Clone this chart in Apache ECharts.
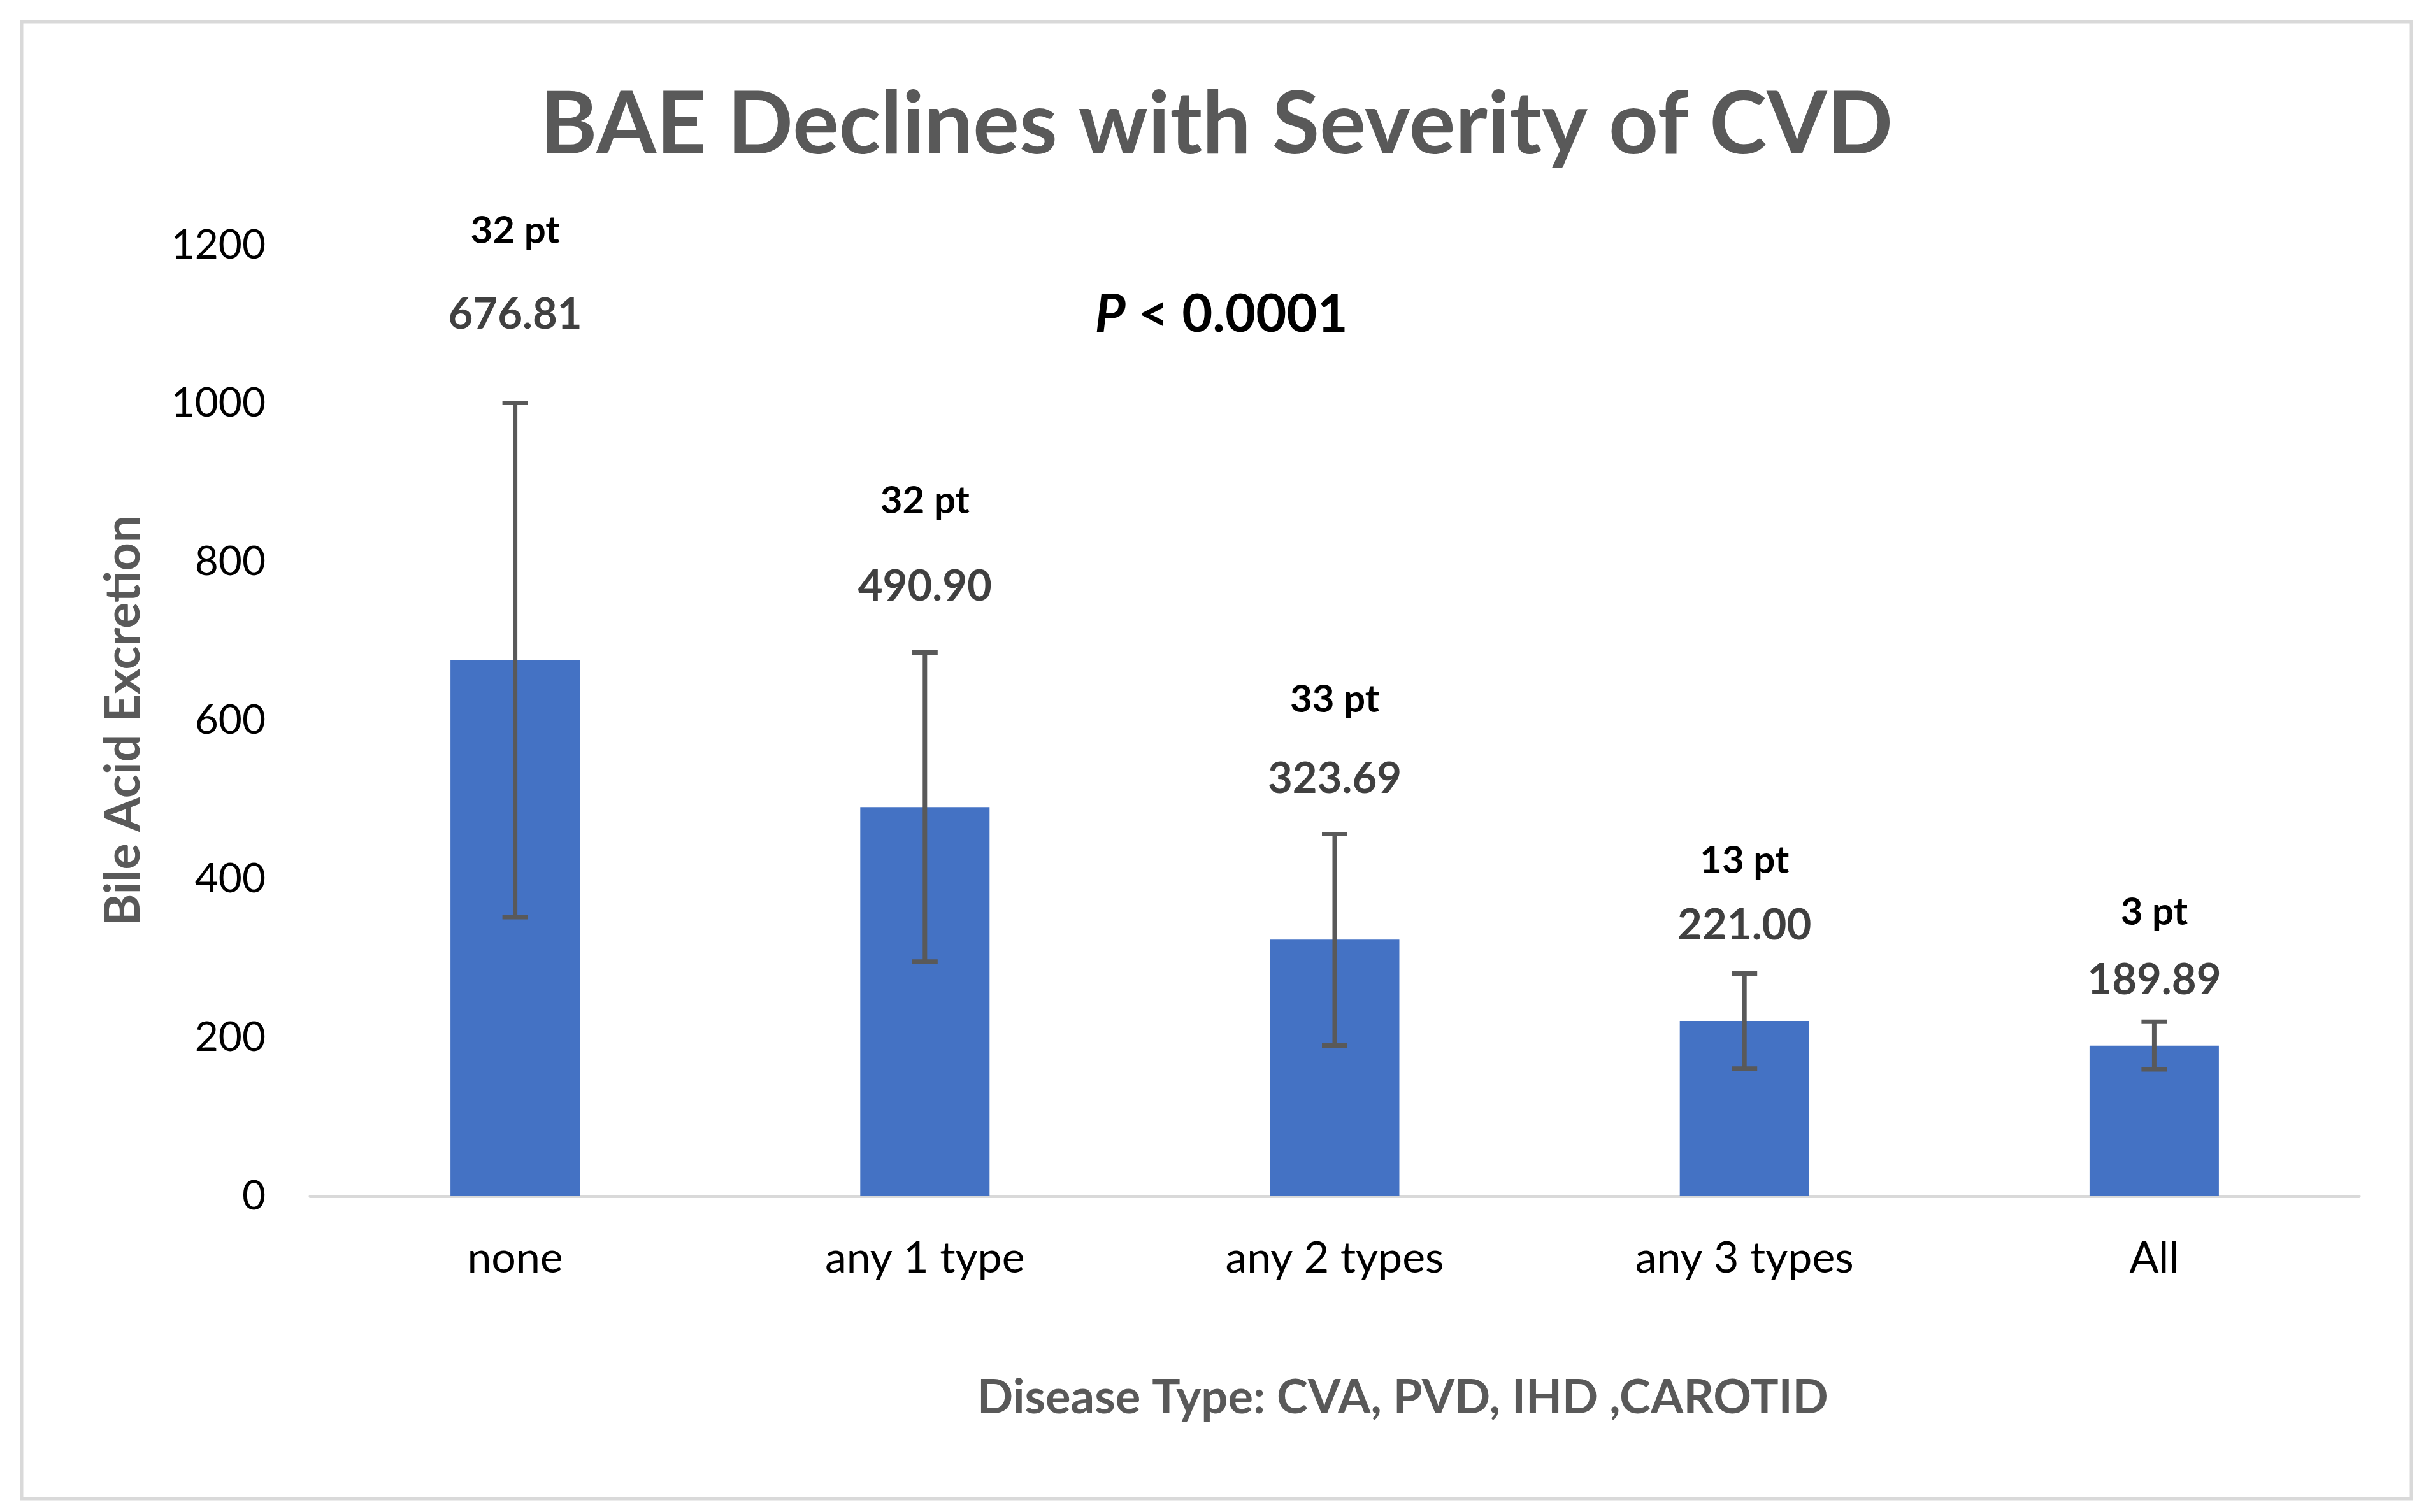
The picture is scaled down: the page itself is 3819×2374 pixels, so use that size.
<!DOCTYPE html>
<html>
<head>
<meta charset="utf-8">
<script src="https://cdn.jsdelivr.net/npm/echarts@6/dist/echarts.min.js"></script>
<style>html,body{margin:0;padding:0;background:#fff}#c{width:3819px;height:2374px}</style>
</head>
<body>
<div id="c"></div>
<script>
const categories = ['none', 'any 1 type', 'any 2 types', 'any 3 types', 'All'];
const means = [676.81, 490.90, 323.69, 221.00, 189.89];
const errLow = [352, 296, 190, 161, 160];
const errHigh = [1001, 686, 457, 281, 220];
const patients = ['32 pt', '32 pt', '33 pt', '13 pt', '3 pt'];
const ptLabelAt = [1218, 877, 626, 423, 358];
const valueLabelAt = [1112, 769, 526, 341, 272];
const yTicks = { min: 0, max: 1200, interval: 200 };

const FONT = 'Lato';
const chart = echarts.init(document.getElementById('c'), null, { renderer: 'canvas' });

const option = {
  backgroundColor: '#ffffff',
  animation: false,
  title: {
    text: 'BAE Declines with Severity of CVD',
    left: 'center',
    top: 124,
    textStyle: { fontFamily: FONT, fontSize: 136, fontWeight: 'bold', color: '#595959' }
  },
  grid: { left: 487, right: 116, top: 385, bottom: 496 },
  xAxis: {
    type: 'category',
    data: categories,
    axisLine: { lineStyle: { color: '#d9d9d9', width: 5 } },
    axisTick: { show: false },
    axisLabel: { fontFamily: FONT, fontSize: 68, color: '#000000', margin: 64 },
    name: 'Disease Type: CVA, PVD, IHD ,CAROTID',
    nameLocation: 'middle',
    nameGap: 280,
    nameTextStyle: { fontFamily: FONT, fontSize: 74, fontWeight: 'bold', color: '#595959', padding: [0, 0, 0, 214] }
  },
  yAxis: {
    type: 'value',
    min: yTicks.min, max: yTicks.max, interval: yTicks.interval,
    splitLine: { show: false },
    axisLine: { show: false },
    axisTick: { show: false },
    axisLabel: { fontFamily: FONT, fontSize: 64, color: '#000000', margin: 70, formatter: v => String(v) },
    name: 'Bile Acid Excretion',
    nameLocation: 'middle',
    nameRotate: 90,
    nameGap: 254,
    nameTextStyle: { fontFamily: FONT, fontSize: 77, fontWeight: 'bold', color: '#595959' }
  },
  series: [
    {
      type: 'bar',
      data: means,
      barWidth: 203,
      itemStyle: { color: '#4472c4' },
      z: 2
    },
    {
      type: 'custom',
      z: 5,
      data: categories.map((c, i) => [i, errLow[i], errHigh[i]]),
      renderItem: function (params, api) {
        const x = api.value(0);
        const lo = api.coord([x, api.value(1)]);
        const hi = api.coord([x, api.value(2)]);
        const cap = 20;
        const style = { stroke: '#595959', lineWidth: 7 };
        return {
          type: 'group',
          children: [
            { type: 'line', shape: { x1: lo[0], y1: lo[1], x2: hi[0], y2: hi[1] }, style },
            { type: 'line', shape: { x1: hi[0] - cap, y1: hi[1], x2: hi[0] + cap, y2: hi[1] }, style },
            { type: 'line', shape: { x1: lo[0] - cap, y1: lo[1], x2: lo[0] + cap, y2: lo[1] }, style }
          ]
        };
      }
    },
    {
      type: 'custom',
      z: 6,
      data: categories.map((c, i) => [i, ptLabelAt[i], valueLabelAt[i]]),
      renderItem: function (params, api) {
        const i = params.dataIndex;
        const x = api.value(0);
        const p1 = api.coord([x, api.value(1)]);
        const p2 = api.coord([x, api.value(2)]);
        return {
          type: 'group',
          children: [
            { type: 'text', x: p1[0], y: p1[1], style: { text: patients[i], fontFamily: FONT, fontSize: 60, fontWeight: 'bold', fill: '#000000', align: 'center', verticalAlign: 'middle' } },
            { type: 'text', x: p2[0], y: p2[1], style: { text: means[i].toFixed(2), fontFamily: FONT, fontSize: 67, fontWeight: 'bold', fill: '#404040', align: 'center', verticalAlign: 'middle' } }
          ]
        };
      }
    }
  ],
  graphic: [
    {
      type: 'rect',
      shape: { x: 34, y: 34, width: 3751, height: 2319 },
      style: { fill: 'none', stroke: '#d9d9d9', lineWidth: 5 },
      silent: true
    },
    {
      type: 'text',
      x: 1917, y: 494,
      style: {
        text: '{i|P}{b| < 0.0001}',
        align: 'center', verticalAlign: 'middle',
        rich: {
          i: { fontFamily: FONT, fontSize: 83, fontWeight: 'bold', fontStyle: 'italic', fill: '#000000' },
          b: { fontFamily: FONT, fontSize: 83, fontWeight: 'bold', fill: '#000000' }
        }
      }
    }
  ]
};
chart.setOption(option);
</script>
</body>
</html>
